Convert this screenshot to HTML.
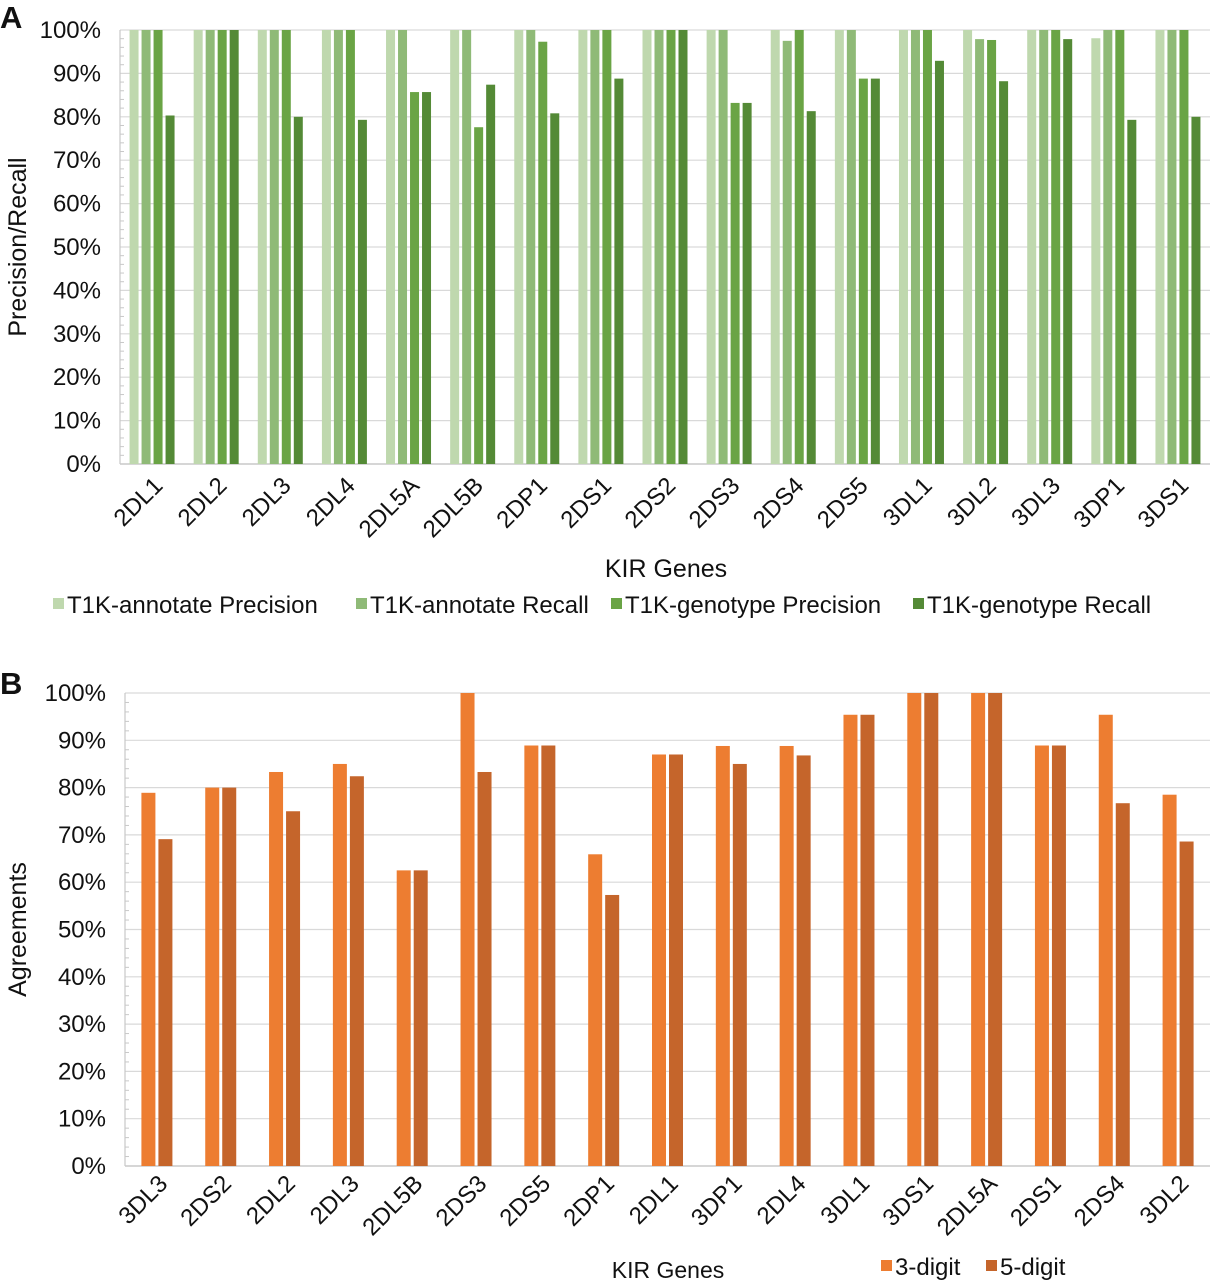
<!DOCTYPE html>
<html><head><meta charset="utf-8"><style>
html,body{margin:0;padding:0;background:#fff;}
svg{display:block;font-family:"Liberation Sans",Arial,sans-serif;}
</style></head><body>
<svg id="fig" width="1211" height="1280" viewBox="0 0 1211 1280" xmlns="http://www.w3.org/2000/svg">
<g id="chartA"></g>
<g id="chartB"></g>
</svg>
<script>
const genesA = ["2DL1","2DL2","2DL3","2DL4","2DL5A","2DL5B","2DP1","2DS1","2DS2","2DS3","2DS4","2DS5","3DL1","3DL2","3DL3","3DP1","3DS1"];
const annotPrecision = [100,100,100,100,100,100,100,100,100,100,100,100,100,100,100,98.1,100];
const annotRecall    = [100,100,100,100,100,100,100,100,100,100,97.5,100,100,97.9,100,100,100];
const genoPrecision  = [100,100,100,100,85.7,77.6,97.3,100,100,83.2,100,88.8,100,97.7,100,100,100];
const genoRecall     = [80.3,100,80,79.3,85.7,87.4,80.8,88.8,100,83.2,81.3,88.8,92.9,88.2,97.9,79.3,80];
const seriesNamesA = ["T1K-annotate Precision","T1K-annotate Recall","T1K-genotype Precision","T1K-genotype Recall"];

const genesB = ["3DL3","2DS2","2DL2","2DL3","2DL5B","2DS3","2DS5","2DP1","2DL1","3DP1","2DL4","3DL1","3DS1","2DL5A","2DS1","2DS4","3DL2"];
const digit3 = [78.9,80,83.3,85,62.5,100,88.9,65.9,87,88.8,88.8,95.4,100,100,88.9,95.4,78.5];
const digit5 = [69.1,80,75,82.4,62.5,83.3,88.9,57.3,87,85,86.8,95.4,100,100,88.9,76.7,68.6];
const seriesNamesB = ["3-digit","5-digit"];
const yTicks = [0,10,20,30,40,50,60,70,80,90,100];

const NS="http://www.w3.org/2000/svg";
function mk(parent,tag,attrs,text){const e=document.createElementNS(NS,tag);for(const k in attrs)e.setAttribute(k,attrs[k]);if(text!==undefined)e.textContent=text;parent.appendChild(e);return e;}

function drawChart(g,cfg){
  const {x0,x1,yTop,yBot,cats,series,colors,barW,gap,yTitle,yTitleX,labelY,tickX}=cfg;
  const y=v=>yBot-(yBot-yTop)*v/100;
  const cw=(x1-x0)/cats.length;
  yTicks.forEach(t=>{
    if(t>0){const l=mk(g,'line',{x1:x0,x2:x1,y1:y(t),y2:y(t),stroke:'#d9d9d9','stroke-width':1.2});
    
    }
    const tx=mk(g,'text',{x:tickX,y:y(t)+8,'text-anchor':'end','font-size':24,fill:'#111'},t+'%');
    
    
  });
  for(let t=0;t<100;t+=2){ if(t%10){mk(g,'line',{x1:x0,x2:x0+4,y1:y(t),y2:y(t),stroke:'#c8c8c8','stroke-width':1});} }
  const ax=mk(g,'line',{x1:x0,x2:x0,y1:yTop,y2:yBot,stroke:'#c8c8c8','stroke-width':1.2});
  
  
  const bx=mk(g,'line',{x1:x0,x2:x1,y1:yBot,y2:yBot,stroke:'#c8c8c8','stroke-width':1.5});
  
  
  const n=series.length, gw=n*barW+(n-1)*gap;
  cats.forEach((c,i)=>{
    const cx=x0+cw*(i+0.5);
    series.forEach((s,j)=>{
      const bx0=cx-gw/2+j*(barW+gap);
      const r=mk(g,'rect',{x:bx0,y:y(s[i]),width:barW,height:yBot-y(s[i]),fill:colors[j]});
      
      
    });
    const t=mk(g,'text',{x:cx+12,y:labelY,'text-anchor':'end','font-size':24,fill:'#111',transform:`rotate(-45 ${cx+12} ${labelY})`},c);
    
    
  });
  const yt=mk(g,'text',{x:yTitleX,y:(yTop+yBot)/2,'text-anchor':'middle','font-size':25,fill:'#111',transform:`rotate(-90 ${yTitleX} ${(yTop+yBot)/2})`},yTitle);
  
  
}

const gA=document.getElementById('chartA');
drawChart(gA,{x0:120,x1:1210,yTop:30,yBot:464,cats:genesA,series:[annotPrecision,annotRecall,genoPrecision,genoRecall],
  colors:['#bfd8ae','#8fba77','#6aa445','#548a36'],barW:9,gap:3,yTitle:'Precision/Recall',yTitleX:26,labelY:487,tickX:101});
const gB=document.getElementById('chartB');
drawChart(gB,{x0:125,x1:1210,yTop:693,yBot:1166,cats:genesB,series:[digit3,digit5],
  colors:['#ed7d31','#c5652b'],barW:14,gap:3,yTitle:'Agreements',yTitleX:26,labelY:1185,tickX:106});

function txt(g,x,yy,s,size,name,weight){const t=mk(g,'text',{x:x,y:yy,'font-size':size,fill:'#111','font-weight':weight||'normal'},s);
  
  return t;}
txt(gA,0,28,'A',31,'panel-label-a','bold');
txt(gB,0,694,'B',31,'panel-label-b','bold');
const xa=txt(gA,666,577,'KIR Genes',25,'x-axis-title');xa.setAttribute('text-anchor','middle');
const xb=txt(gB,668,1278,'KIR Genes',23,'x-axis-title');xb.setAttribute('text-anchor','middle');

const legA=[{x:53,c:'#bfd8ae'},{x:356,c:'#8fba77'},{x:611,c:'#6aa445'},{x:913,c:'#548a36'}];
seriesNamesA.forEach((s,i)=>{
  const r=mk(gA,'rect',{x:legA[i].x,y:598,width:11,height:11,fill:legA[i].c});
  
  
  const t=txt(gA,legA[i].x+14,613,s,24,'legend-entry');
  
});
const legB=[{x:881,c:'#ed7d31'},{x:986,c:'#c5652b'}];
seriesNamesB.forEach((s,i)=>{
  const r=mk(gB,'rect',{x:legB[i].x,y:1260,width:11,height:11,fill:legB[i].c});
  
  
  const t=txt(gB,legB[i].x+14,1275,s,24,'legend-entry');
  
});
</script>
</body></html>
